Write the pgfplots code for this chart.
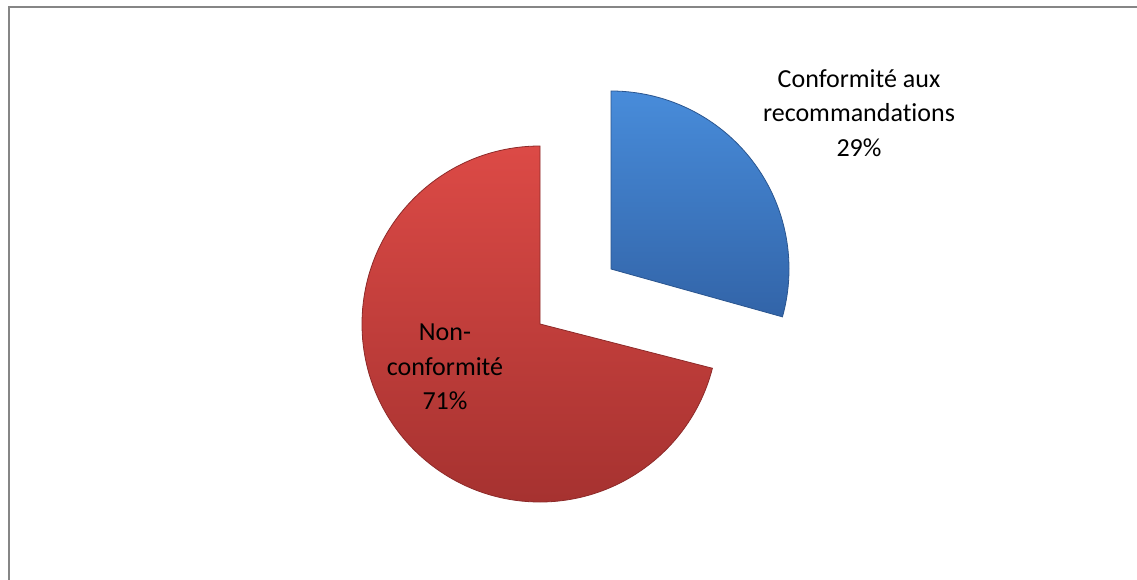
\documentclass[border=0pt]{standalone}
\usepackage{pgfplots}
\pgfplotsset{compat=1.18}
\usepackage{fontspec}
\setmainfont{Carlito}[Ligatures={NoCommon}]

\definecolor{confTop}{RGB}{72,140,218}
\definecolor{confBot}{RGB}{50,100,168}
\definecolor{nonTop}{RGB}{220,74,70}
\definecolor{nonBot}{RGB}{166,50,48}
\definecolor{frameGrey}{RGB}{134,134,134}

\begin{document}
\begin{tikzpicture}
% shares (percent)
\pgfmathsetmacro{\conf}{29}
\pgfmathsetmacro{\nonc}{71}
\pgfmathsetmacro{\splitang}{90-360*\conf/(\conf+\nonc)}
\begin{axis}[
    at={(0,0)}, anchor=south west,
    scale only axis,
    width=852.75pt, height=434.25pt,
    xmin=0, xmax=1137, ymin=0, ymax=579,
    hide axis, clip=false,
]
% Non-conformité (71 %)
\shade[top color=nonTop, bottom color=nonBot, draw=nonBot!85!black, line width=0.6pt]
    (axis cs:540,255) -- ++(90:133.5pt)
    arc[start angle=90, end angle=\splitang+360, radius=133.5pt] -- cycle;
% Conformité (29 %), exploded
\shade[top color=confTop, bottom color=confBot, draw=confBot!85!black, line width=0.6pt]
    (axis cs:611,310) -- ++(90:133.5pt)
    arc[start angle=90, end angle=\splitang-1.2, radius=133.5pt] -- cycle;

\node[align=center, font=\fontsize{19.5}{26}\selectfont]
    at (axis cs:859,466) {Conformité aux\\recommandations\\29\%};
\node[align=center, font=\fontsize{19.5}{26}\selectfont]
    at (axis cs:445,212) {Non-\\conformité\\71\%};

\draw[frameGrey, line width=1.5pt]
    (axis cs:8.5,-5) -- (axis cs:8.5,571.5) -- (axis cs:1145,571.5);
\end{axis}
\pgfresetboundingbox
\useasboundingbox (0,0) rectangle (852.75pt,434.25pt);
\end{tikzpicture}
\end{document}
